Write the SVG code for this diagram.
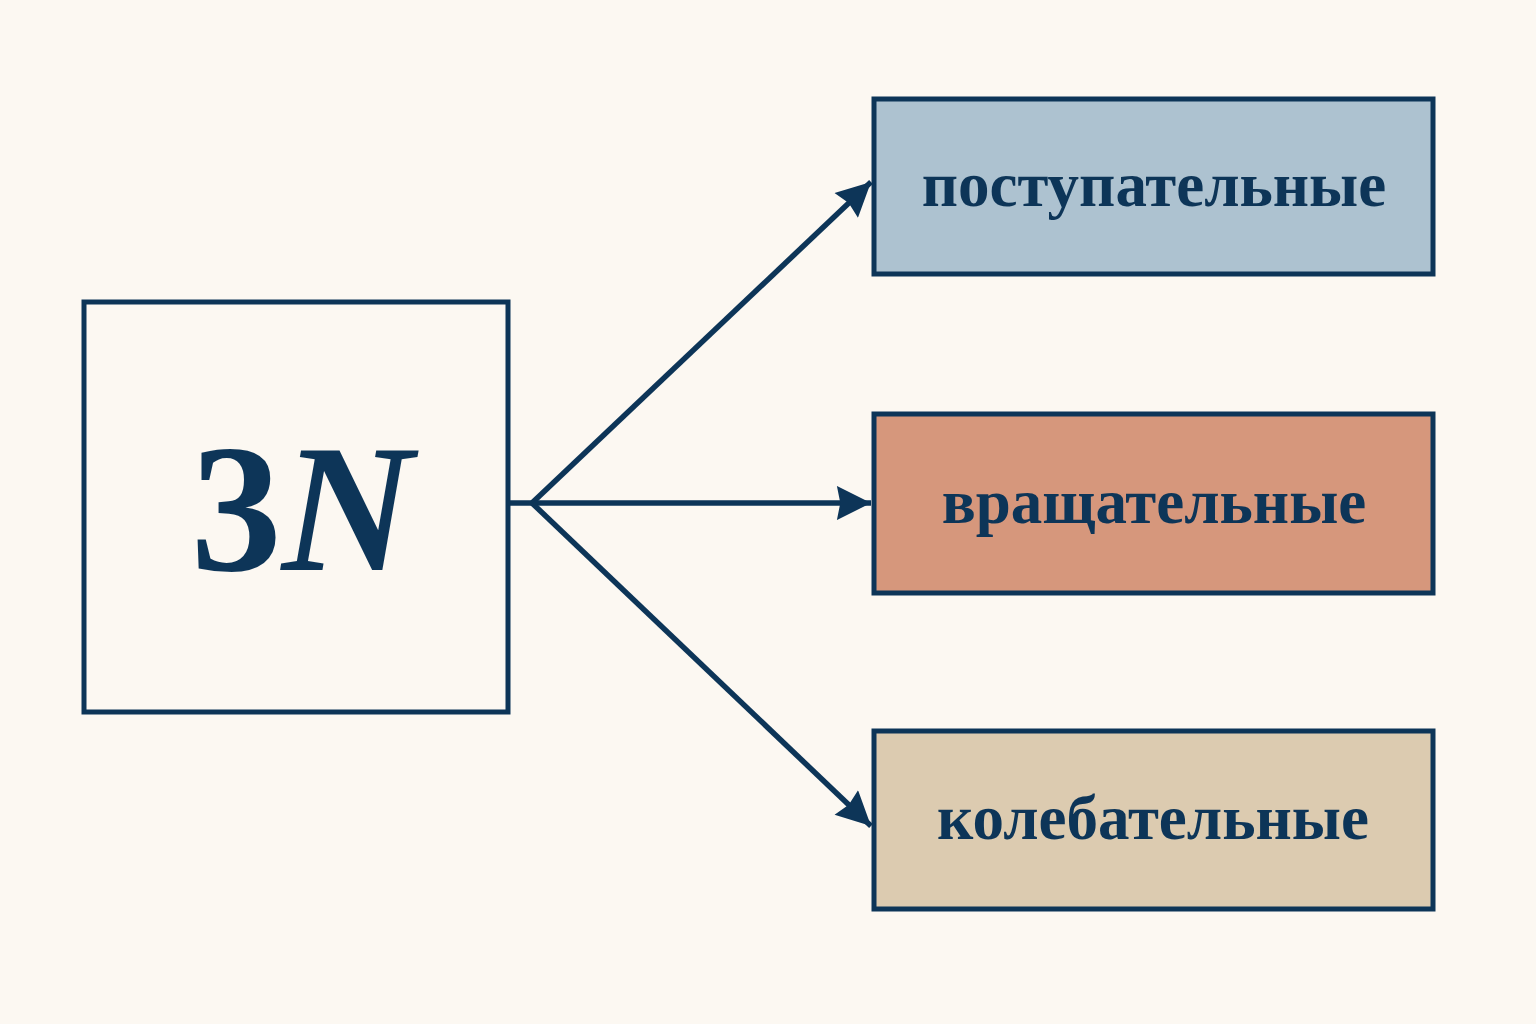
<svg xmlns="http://www.w3.org/2000/svg" width="1536" height="1024" viewBox="0 0 1536 1024">
  <style>
    .box { stroke: #0d3558; stroke-width: 5; }
    .lbl { font-family: "Liberation Serif", "DejaVu Serif", serif; font-weight: bold; font-size: 63px; fill: #0d3558; text-anchor: middle; }
    .conn { stroke: #0d3558; stroke-width: 5.5; fill: none; }
  </style>
  <defs>
    <marker id="arr" viewBox="0 0 10 10" refX="10" refY="5" markerWidth="7.6" markerHeight="6.2" markerUnits="strokeWidth" orient="auto">
      <path d="M0,0 L10,5 L0,10 L1,5 z" fill="#0d3558"/>
    </marker>
  </defs>
  <rect width="1536" height="1024" fill="#fcf8f2"/>
  <g id="source">
    <rect class="box" x="84" y="302" width="424" height="410" fill="#fcf8f2"/>
    <text x="302" y="570" font-family="Liberation Serif, DejaVu Serif, serif" font-weight="bold" font-size="182" fill="#0d3558" text-anchor="middle">3<tspan font-style="italic">N</tspan></text>
  </g>
  <g id="translational">
    <rect class="box" x="874" y="99" width="559" height="175" fill="#adc2d0"/>
    <text class="lbl" x="1154" y="206">поступательные</text>
  </g>
  <g id="rotational">
    <rect class="box" x="874" y="414" width="559" height="179" fill="#d6977c"/>
    <text class="lbl" x="1154" y="523">вращательные</text>
  </g>
  <g id="vibrational">
    <rect class="box" x="874" y="731" width="559" height="178" fill="#dccbb0"/>
    <text class="lbl" x="1153" y="839">колебательные</text>
  </g>
  <g id="connectors">
    <line class="conn" x1="508" y1="503" x2="534" y2="503"/>
    <line class="conn" x1="532" y1="503" x2="871" y2="182" marker-end="url(#arr)"/>
    <line class="conn" x1="532" y1="503" x2="871" y2="503" marker-end="url(#arr)"/>
    <line class="conn" x1="532" y1="503" x2="871" y2="826" marker-end="url(#arr)"/>
  </g>
</svg>
